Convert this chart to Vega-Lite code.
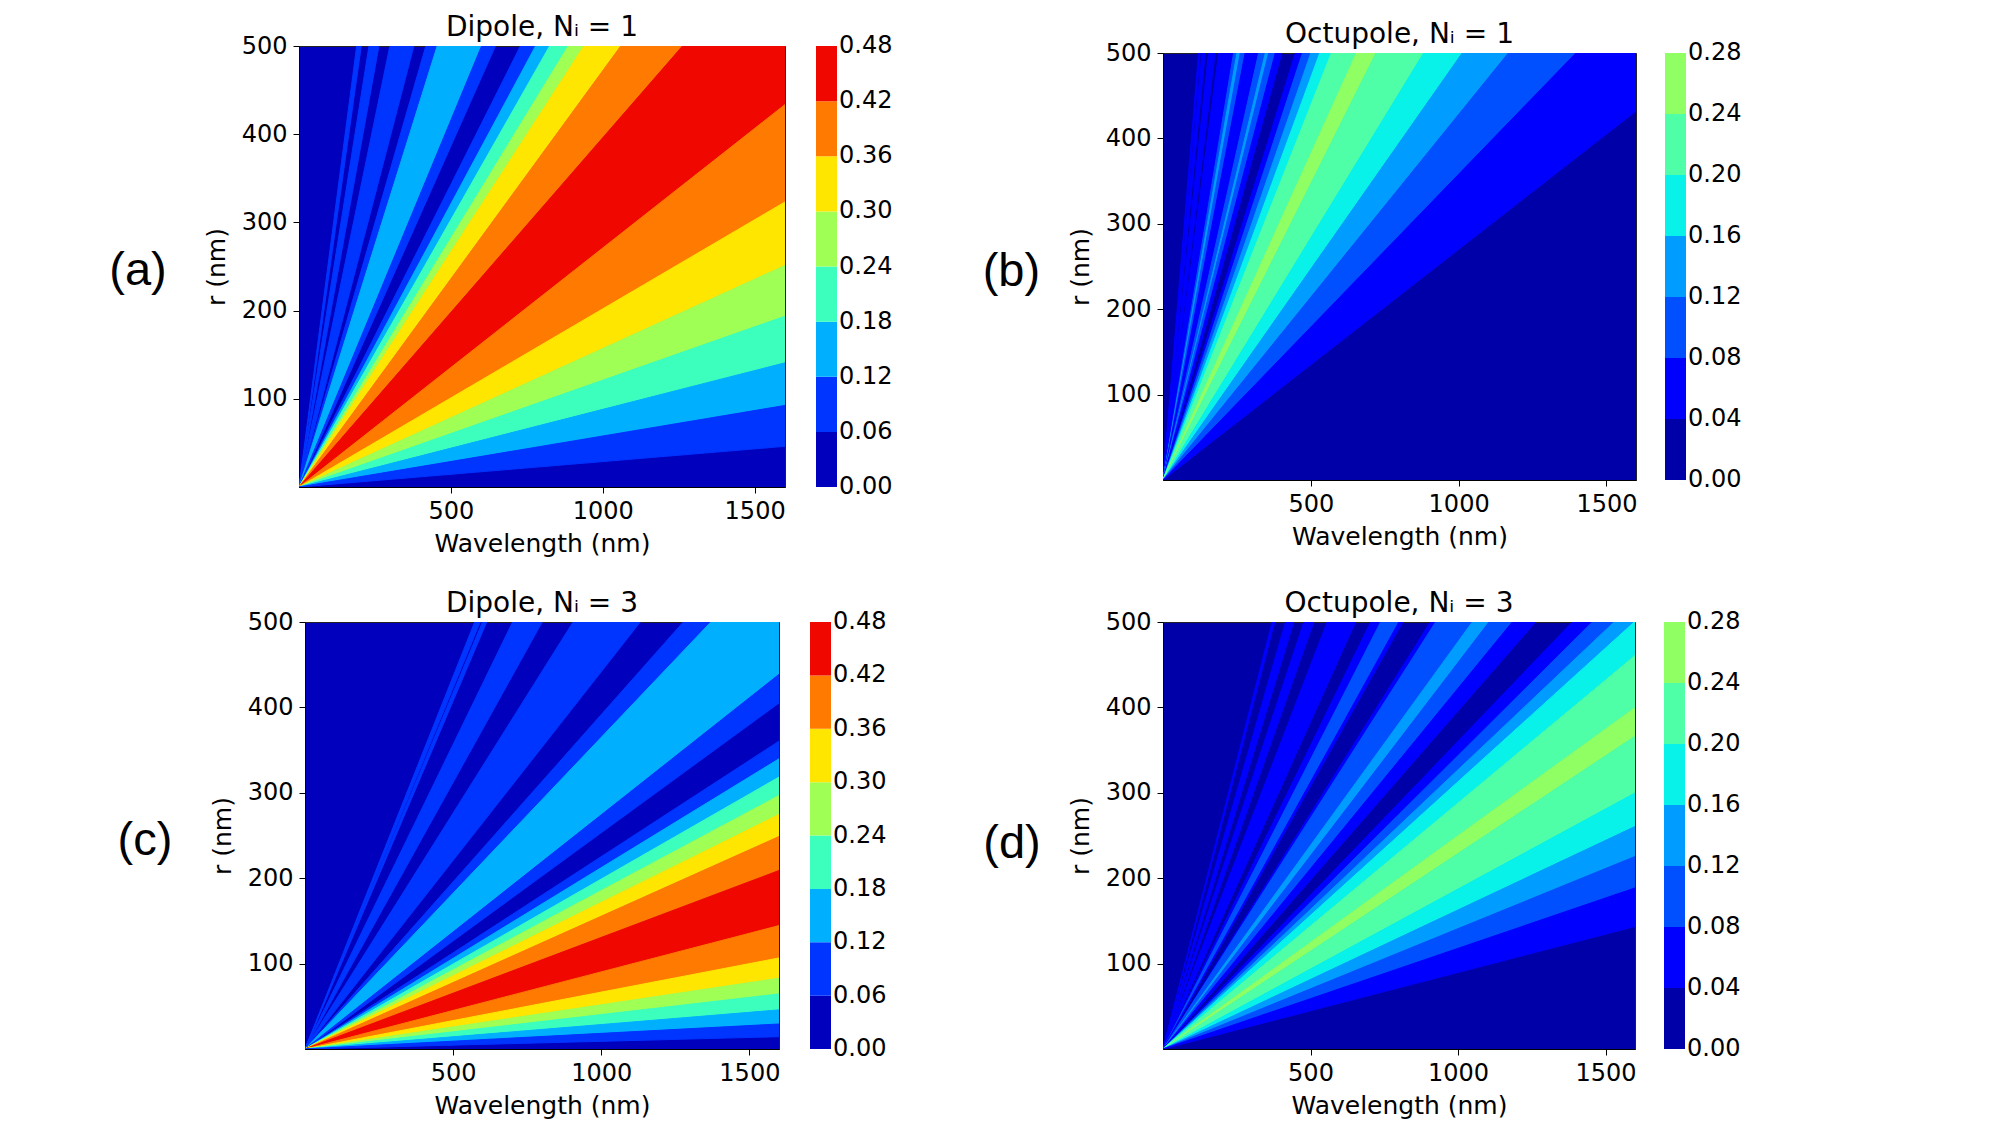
{
  "$schema": "https://vega.github.io/schema/vega-lite/v6.json",
  "background": "white",
  "padding": {"left": 108, "top": 13, "right": 10, "bottom": 10},
  "config": {
    "font": "DejaVu Sans",
    "axis": {"labelFontSize": 24, "titleFontSize": 25, "titleFontWeight": "normal", "labelColor": "black", "titleColor": "black", "tickColor": "black", "domainColor": "black", "tickSize": 6, "labelPadding": 6, "grid": false, "zindex": 1, "labelFlush": false, "labelFont": "DejaVu Sans", "titleFont": "DejaVu Sans", "format": "d"},
    "axisX": {"titlePadding": 8},
    "axisY": {"titlePadding": 12},
    "title": {"fontSize": 28, "fontWeight": "normal", "offset": -8, "frame": "group", "baseline": "alphabetic", "color": "black", "font": "DejaVu Sans", "anchor": "middle"},
    "legend": {"labelFontSize": 24, "labelColor": "black", "labelFont": "DejaVu Sans", "labelOffset": 11, "gradientThickness": 21, "gradientStrokeWidth": 0, "padding": 0, "labelOverlap": false, "direction": "vertical", "orient": "right", "labelBaseline": "middle"}
  },
  "datasets": {
    "a": [
      {"b":"a1","v":0.09,"x":0,"y":0,"y2":0},{"b":"a1","v":0.09,"x":189.8,"y":500,"y2":463.0},{"b":"a1","v":0.09,"x":205.0,"y":500,"y2":500},
      {"b":"a3","v":0.09,"x":0,"y":0,"y2":0},{"b":"a3","v":0.09,"x":230.3,"y":500,"y2":437.6},{"b":"a3","v":0.09,"x":263.2,"y":500,"y2":500},
      {"b":"a5","v":0.09,"x":0,"y":0,"y2":0},{"b":"a5","v":0.09,"x":299.0,"y":500,"y2":395.3},{"b":"a5","v":0.09,"x":378.2,"y":500,"y2":500},
      {"b":"a7","v":0.09,"x":0,"y":0,"y2":0},{"b":"a7","v":0.09,"x":417.4,"y":500,"y2":458.7},{"b":"a7","v":0.09,"x":455.0,"y":500,"y2":500},
      {"b":"a8","v":0.15,"x":0,"y":0,"y2":0},{"b":"a8","v":0.15,"x":455.0,"y":500,"y2":378.5},{"b":"a8","v":0.15,"x":601.0,"y":500,"y2":500},
      {"b":"a9","v":0.09,"x":0,"y":0,"y2":0},{"b":"a9","v":0.09,"x":601.0,"y":500,"y2":464.5},{"b":"a9","v":0.09,"x":646.8,"y":500,"y2":500},
      {"b":"a11","v":0.09,"x":0,"y":0,"y2":0},{"b":"a11","v":0.09,"x":728.9,"y":500,"y2":467.9},{"b":"a11","v":0.09,"x":778.8,"y":500,"y2":500},
      {"b":"a12","v":0.15,"x":0,"y":0,"y2":0},{"b":"a12","v":0.15,"x":778.8,"y":500,"y2":472.0},{"b":"a12","v":0.15,"x":825.1,"y":500,"y2":500},
      {"b":"a13","v":0.21,"x":0,"y":0,"y2":0},{"b":"a13","v":0.21,"x":825.1,"y":500,"y2":465.3},{"b":"a13","v":0.21,"x":886.5,"y":500,"y2":500},
      {"b":"a14","v":0.27,"x":0,"y":0,"y2":0},{"b":"a14","v":0.27,"x":886.5,"y":500,"y2":472.5},{"b":"a14","v":0.27,"x":938.1,"y":500,"y2":500},
      {"b":"a15","v":0.33,"x":0,"y":0,"y2":0},{"b":"a15","v":0.33,"x":938.1,"y":500,"y2":442.8},{"b":"a15","v":0.33,"x":1059.3,"y":500,"y2":500},
      {"b":"a16","v":0.39,"x":0,"y":0,"y2":0},{"b":"a16","v":0.39,"x":1059.3,"y":500,"y2":419.5},{"b":"a16","v":0.39,"x":1262.6,"y":500,"y2":500},
      {"b":"a17","v":0.45,"x":0,"y":0,"y2":0},{"b":"a17","v":0.45,"x":1262.6,"y":500,"y2":342.2},{"b":"a17","v":0.45,"x":1600,"y":500,"y2":433.6},
      {"b":"a18","v":0.39,"x":0,"y":0,"y2":0},{"b":"a18","v":0.39,"x":1600,"y":433.6,"y2":323.2},
      {"b":"a19","v":0.33,"x":0,"y":0,"y2":0},{"b":"a19","v":0.33,"x":1600,"y":323.2,"y2":251.2},
      {"b":"a20","v":0.27,"x":0,"y":0,"y2":0},{"b":"a20","v":0.27,"x":1600,"y":251.2,"y2":193.6},
      {"b":"a21","v":0.21,"x":0,"y":0,"y2":0},{"b":"a21","v":0.21,"x":1600,"y":193.6,"y2":140.8},
      {"b":"a22","v":0.15,"x":0,"y":0,"y2":0},{"b":"a22","v":0.15,"x":1600,"y":140.8,"y2":92.5},
      {"b":"a23","v":0.09,"x":0,"y":0,"y2":0},{"b":"a23","v":0.09,"x":1600,"y":92.5,"y2":46.1}
    ],
    "b": [
      {"b":"b1","v":0.06,"x":0,"y":0,"y2":0},{"b":"b1","v":0.06,"x":120.2,"y":500,"y2":477.2},{"b":"b1","v":0.06,"x":125.9,"y":500,"y2":500},
      {"b":"b3","v":0.06,"x":0,"y":0,"y2":0},{"b":"b3","v":0.06,"x":131.6,"y":500,"y2":460.5},{"b":"b3","v":0.06,"x":142.9,"y":500,"y2":500},
      {"b":"b5","v":0.06,"x":0,"y":0,"y2":0},{"b":"b5","v":0.06,"x":153.8,"y":500,"y2":435.4},{"b":"b5","v":0.06,"x":176.7,"y":500,"y2":500},
      {"b":"b7","v":0.06,"x":0,"y":0,"y2":0},{"b":"b7","v":0.06,"x":188.0,"y":500,"y2":393.6},{"b":"b7","v":0.06,"x":238.8,"y":500,"y2":500},
      {"b":"b8","v":0.10,"x":0,"y":0,"y2":0},{"b":"b8","v":0.10,"x":238.8,"y":500,"y2":477.6},{"b":"b8","v":0.10,"x":250.0,"y":500,"y2":500},
      {"b":"b9","v":0.14,"x":0,"y":0,"y2":0},{"b":"b9","v":0.14,"x":250.0,"y":500,"y2":478.3},{"b":"b9","v":0.14,"x":261.4,"y":500,"y2":500},
      {"b":"b10","v":0.10,"x":0,"y":0,"y2":0},{"b":"b10","v":0.10,"x":261.4,"y":500,"y2":470.5},{"b":"b10","v":0.10,"x":277.8,"y":500,"y2":500},
      {"b":"b11","v":0.06,"x":0,"y":0,"y2":0},{"b":"b11","v":0.06,"x":277.8,"y":500,"y2":429.4},{"b":"b11","v":0.06,"x":323.4,"y":500,"y2":500},
      {"b":"b12","v":0.10,"x":0,"y":0,"y2":0},{"b":"b12","v":0.10,"x":323.4,"y":500,"y2":467.3},{"b":"b12","v":0.10,"x":346.0,"y":500,"y2":500},
      {"b":"b13","v":0.14,"x":0,"y":0,"y2":0},{"b":"b13","v":0.14,"x":346.0,"y":500,"y2":484.1},{"b":"b13","v":0.14,"x":357.4,"y":500,"y2":500},
      {"b":"b14","v":0.10,"x":0,"y":0,"y2":0},{"b":"b14","v":0.10,"x":357.4,"y":500,"y2":470.3},{"b":"b14","v":0.10,"x":379.9,"y":500,"y2":500},
      {"b":"b15","v":0.06,"x":0,"y":0,"y2":0},{"b":"b15","v":0.06,"x":379.9,"y":500,"y2":472.3},{"b":"b15","v":0.06,"x":402.3,"y":500,"y2":500},
      {"b":"b17","v":0.06,"x":0,"y":0,"y2":0},{"b":"b17","v":0.06,"x":447.6,"y":500,"y2":474.5},{"b":"b17","v":0.06,"x":471.7,"y":500,"y2":500},
      {"b":"b18","v":0.10,"x":0,"y":0,"y2":0},{"b":"b18","v":0.10,"x":471.7,"y":500,"y2":471.7},{"b":"b18","v":0.10,"x":500.0,"y":500,"y2":500},
      {"b":"b19","v":0.14,"x":0,"y":0,"y2":0},{"b":"b19","v":0.14,"x":500.0,"y":500,"y2":471.5},{"b":"b19","v":0.14,"x":530.2,"y":500,"y2":500},
      {"b":"b20","v":0.18,"x":0,"y":0,"y2":0},{"b":"b20","v":0.18,"x":530.2,"y":500,"y2":465.5},{"b":"b20","v":0.18,"x":569.5,"y":500,"y2":500},
      {"b":"b21","v":0.22,"x":0,"y":0,"y2":0},{"b":"b21","v":0.22,"x":569.5,"y":500,"y2":435.1},{"b":"b21","v":0.22,"x":654.5,"y":500,"y2":500},
      {"b":"b22","v":0.26,"x":0,"y":0,"y2":0},{"b":"b22","v":0.26,"x":654.5,"y":500,"y2":454.2},{"b":"b22","v":0.26,"x":720.5,"y":500,"y2":500},
      {"b":"b23","v":0.22,"x":0,"y":0,"y2":0},{"b":"b23","v":0.22,"x":720.5,"y":500,"y2":408.5},{"b":"b23","v":0.22,"x":881.8,"y":500,"y2":500},
      {"b":"b24","v":0.18,"x":0,"y":0,"y2":0},{"b":"b24","v":0.18,"x":881.8,"y":500,"y2":435.6},{"b":"b24","v":0.18,"x":1012.1,"y":500,"y2":500},
      {"b":"b25","v":0.14,"x":0,"y":0,"y2":0},{"b":"b25","v":0.14,"x":1012.1,"y":500,"y2":433.2},{"b":"b25","v":0.14,"x":1168.2,"y":500,"y2":500},
      {"b":"b26","v":0.10,"x":0,"y":0,"y2":0},{"b":"b26","v":0.10,"x":1168.2,"y":500,"y2":418.2},{"b":"b26","v":0.10,"x":1396.6,"y":500,"y2":500},
      {"b":"b27","v":0.06,"x":0,"y":0,"y2":0},{"b":"b27","v":0.06,"x":1396.6,"y":500,"y2":377.1},{"b":"b27","v":0.06,"x":1600,"y":500,"y2":432.0}
    ],
    "c": [
      {"b":"c1","v":0.09,"x":0,"y":0,"y2":0},{"b":"c1","v":0.09,"x":572.7,"y":500,"y2":484.0},{"b":"c1","v":0.09,"x":591.7,"y":500,"y2":500},
      {"b":"c3","v":0.09,"x":0,"y":0,"y2":0},{"b":"c3","v":0.09,"x":598.8,"y":500,"y2":488.0},{"b":"c3","v":0.09,"x":613.5,"y":500,"y2":500},
      {"b":"c5","v":0.09,"x":0,"y":0,"y2":0},{"b":"c5","v":0.09,"x":700.8,"y":500,"y2":437.6},{"b":"c5","v":0.09,"x":800.6,"y":500,"y2":500},
      {"b":"c7","v":0.09,"x":0,"y":0,"y2":0},{"b":"c7","v":0.09,"x":904.8,"y":500,"y2":399.7},{"b":"c7","v":0.09,"x":1131.7,"y":500,"y2":500},
      {"b":"c9","v":0.09,"x":0,"y":0,"y2":0},{"b":"c9","v":0.09,"x":1276.8,"y":500,"y2":466.0},{"b":"c9","v":0.09,"x":1369.9,"y":500,"y2":500},
      {"b":"c10","v":0.15,"x":0,"y":0,"y2":0},{"b":"c10","v":0.15,"x":1369.9,"y":500,"y2":375.6},{"b":"c10","v":0.15,"x":1600,"y":500,"y2":438.7},
      {"b":"c11","v":0.09,"x":0,"y":0,"y2":0},{"b":"c11","v":0.09,"x":1600,"y":438.7,"y2":405.1},
      {"b":"c13","v":0.09,"x":0,"y":0,"y2":0},{"b":"c13","v":0.09,"x":1600,"y":360.5,"y2":339.8},
      {"b":"c14","v":0.15,"x":0,"y":0,"y2":0},{"b":"c14","v":0.15,"x":1600,"y":339.8,"y2":318.4},
      {"b":"c15","v":0.21,"x":0,"y":0,"y2":0},{"b":"c15","v":0.21,"x":1600,"y":318.4,"y2":296.8},
      {"b":"c16","v":0.27,"x":0,"y":0,"y2":0},{"b":"c16","v":0.27,"x":1600,"y":296.8,"y2":274.6},
      {"b":"c17","v":0.33,"x":0,"y":0,"y2":0},{"b":"c17","v":0.33,"x":1600,"y":274.6,"y2":248.8},
      {"b":"c18","v":0.39,"x":0,"y":0,"y2":0},{"b":"c18","v":0.39,"x":1600,"y":248.8,"y2":209.0},
      {"b":"c19","v":0.45,"x":0,"y":0,"y2":0},{"b":"c19","v":0.45,"x":1600,"y":209.0,"y2":144.5},
      {"b":"c20","v":0.39,"x":0,"y":0,"y2":0},{"b":"c20","v":0.39,"x":1600,"y":144.5,"y2":106.6},
      {"b":"c21","v":0.33,"x":0,"y":0,"y2":0},{"b":"c21","v":0.33,"x":1600,"y":106.6,"y2":82.9},
      {"b":"c22","v":0.27,"x":0,"y":0,"y2":0},{"b":"c22","v":0.27,"x":1600,"y":82.9,"y2":64.5},
      {"b":"c23","v":0.21,"x":0,"y":0,"y2":0},{"b":"c23","v":0.21,"x":1600,"y":64.5,"y2":45.8},
      {"b":"c24","v":0.15,"x":0,"y":0,"y2":0},{"b":"c24","v":0.15,"x":1600,"y":45.8,"y2":29.3},
      {"b":"c25","v":0.09,"x":0,"y":0,"y2":0},{"b":"c25","v":0.09,"x":1600,"y":29.3,"y2":14.4}
    ],
    "d": [
      {"b":"d1","v":0.06,"x":0,"y":0,"y2":0},{"b":"d1","v":0.06,"x":369.8,"y":500,"y2":488.2},{"b":"d1","v":0.06,"x":378.8,"y":500,"y2":500},
      {"b":"d3","v":0.06,"x":0,"y":0,"y2":0},{"b":"d3","v":0.06,"x":415.1,"y":500,"y2":468.1},{"b":"d3","v":0.06,"x":443.4,"y":500,"y2":500},
      {"b":"d5","v":0.06,"x":0,"y":0,"y2":0},{"b":"d5","v":0.06,"x":477.3,"y":500,"y2":466.8},{"b":"d5","v":0.06,"x":511.2,"y":500,"y2":500},
      {"b":"d7","v":0.06,"x":0,"y":0,"y2":0},{"b":"d7","v":0.06,"x":556.4,"y":500,"y2":426.2},{"b":"d7","v":0.06,"x":652.7,"y":500,"y2":500},
      {"b":"d9","v":0.06,"x":0,"y":0,"y2":0},{"b":"d9","v":0.06,"x":703.5,"y":500,"y2":477.0},{"b":"d9","v":0.06,"x":737.5,"y":500,"y2":500},
      {"b":"d10","v":0.10,"x":0,"y":0,"y2":0},{"b":"d10","v":0.10,"x":737.5,"y":500,"y2":461.2},{"b":"d10","v":0.10,"x":799.5,"y":500,"y2":500},
      {"b":"d11","v":0.06,"x":0,"y":0,"y2":0},{"b":"d11","v":0.06,"x":799.5,"y":500,"y2":491.7},{"b":"d11","v":0.06,"x":813.0,"y":500,"y2":500},
      {"b":"d13","v":0.06,"x":0,"y":0,"y2":0},{"b":"d13","v":0.06,"x":905.8,"y":500,"y2":490.0},{"b":"d13","v":0.06,"x":924.2,"y":500,"y2":500},
      {"b":"d14","v":0.10,"x":0,"y":0,"y2":0},{"b":"d14","v":0.10,"x":924.2,"y":500,"y2":440.9},{"b":"d14","v":0.10,"x":1048.2,"y":500,"y2":500},
      {"b":"d15","v":0.14,"x":0,"y":0,"y2":0},{"b":"d15","v":0.14,"x":1048.2,"y":500,"y2":474.3},{"b":"d15","v":0.14,"x":1105.0,"y":500,"y2":500},
      {"b":"d16","v":0.10,"x":0,"y":0,"y2":0},{"b":"d16","v":0.10,"x":1105.0,"y":500,"y2":466.6},{"b":"d16","v":0.10,"x":1184.0,"y":500,"y2":500},
      {"b":"d17","v":0.06,"x":0,"y":0,"y2":0},{"b":"d17","v":0.06,"x":1184.0,"y":500,"y2":468.6},{"b":"d17","v":0.06,"x":1263.3,"y":500,"y2":500},
      {"b":"d19","v":0.06,"x":0,"y":0,"y2":0},{"b":"d19","v":0.06,"x":1387.3,"y":500,"y2":476.7},{"b":"d19","v":0.06,"x":1455.2,"y":500,"y2":500},
      {"b":"d20","v":0.10,"x":0,"y":0,"y2":0},{"b":"d20","v":0.10,"x":1455.2,"y":500,"y2":475.8},{"b":"d20","v":0.10,"x":1529.1,"y":500,"y2":500},
      {"b":"d21","v":0.14,"x":0,"y":0,"y2":0},{"b":"d21","v":0.14,"x":1529.1,"y":500,"y2":478.6},{"b":"d21","v":0.14,"x":1597.4,"y":500,"y2":500},
      {"b":"d22","v":0.18,"x":0,"y":0,"y2":0},{"b":"d22","v":0.18,"x":1597.4,"y":500,"y2":460.1},{"b":"d22","v":0.18,"x":1600,"y":500,"y2":460.8},
      {"b":"d23","v":0.22,"x":0,"y":0,"y2":0},{"b":"d23","v":0.22,"x":1600,"y":460.8,"y2":399.5},
      {"b":"d24","v":0.26,"x":0,"y":0,"y2":0},{"b":"d24","v":0.26,"x":1600,"y":399.5,"y2":366.1},
      {"b":"d25","v":0.22,"x":0,"y":0,"y2":0},{"b":"d25","v":0.22,"x":1600,"y":366.1,"y2":299.7},
      {"b":"d26","v":0.18,"x":0,"y":0,"y2":0},{"b":"d26","v":0.18,"x":1600,"y":299.7,"y2":260.5},
      {"b":"d27","v":0.14,"x":0,"y":0,"y2":0},{"b":"d27","v":0.14,"x":1600,"y":260.5,"y2":225.4},
      {"b":"d28","v":0.10,"x":0,"y":0,"y2":0},{"b":"d28","v":0.10,"x":1600,"y":225.4,"y2":188.6},
      {"b":"d29","v":0.06,"x":0,"y":0,"y2":0},{"b":"d29","v":0.06,"x":1600,"y":188.6,"y2":143.4}
    ]
  },
  "columns": 2,
  "spacing": {"row": 135, "column": 378},
  "center": true,
  "bounds": "flush",
  "resolve": {"scale": {"color": "independent", "stroke": "independent", "x": "independent", "y": "independent"}, "legend": {"color": "independent", "stroke": "independent"}, "axis": {"x": "independent", "y": "independent"}},
  "concat": [
    {
      "width": 486, "height": 441,
      "view": {"fill": "#0000bd", "stroke": "#222", "strokeWidth": 1},
      "title": {"text": "Dipole, Nᵢ = 1"},
      "layer": [
        {
          "data": {"name": "a"},
          "mark": {"type": "area", "clip": true, "strokeWidth": 1, "strokeJoin": "round", "interpolate": "linear"},
          "encoding": {
            "x": {"field": "x", "type": "quantitative", "scale": {"domain": [0, 1600], "nice": false, "zero": false}, "axis": {"values": [500, 1000, 1500], "title": "Wavelength (nm)"}},
            "y": {"field": "y", "type": "quantitative", "scale": {"domain": [0, 500], "nice": false, "zero": false}, "axis": {"values": [100, 200, 300, 400, 500], "title": "r (nm)"}},
            "y2": {"field": "y2"},
            "detail": {"field": "b"},
            "color": {"field": "v", "type": "quantitative", "scale": {"type": "quantize", "domain": [0, 0.48], "nice": false, "zero": false, "range": ["#0000bd", "#0034ff", "#00b0ff", "#3cffbe", "#a0ff55", "#ffe600", "#ff7a00", "#f00800"]}, "legend": {"type": "gradient", "title": null, "values": [0, 0, 0.06, 0.12, 0.18, 0.24, 0.3, 0.36, 0.42, 0.48], "format": ".2f", "gradientLength": 441, "offset": 31, "encode": {"labels": {"update": {"baseline": {"value": "middle"}}}}}},
            "stroke": {"field": "v", "type": "quantitative", "scale": {"type": "quantize", "domain": [0, 0.48], "nice": false, "zero": false, "range": ["#0000bd", "#0034ff", "#00b0ff", "#3cffbe", "#a0ff55", "#ffe600", "#ff7a00", "#f00800"]}, "legend": null}
          }
        },
        {
          "data": {"values": [{"label": "(a)"}]},
          "mark": {"type": "text", "font": "Liberation Sans", "fontSize": 47, "color": "black", "clip": false, "baseline": "middle", "align": "center"},
          "encoding": {"x": {"datum": -530, "type": "quantitative"}, "y": {"datum": 245, "type": "quantitative"}, "text": {"field": "label"}}
        }
      ]
    },
    {
      "width": 473, "height": 427,
      "view": {"fill": "#0000a8", "stroke": "#222", "strokeWidth": 1},
      "title": {"text": "Octupole, Nᵢ = 1"},
      "layer": [
        {
          "data": {"name": "b"},
          "mark": {"type": "area", "clip": true, "strokeWidth": 1, "strokeJoin": "round", "interpolate": "linear"},
          "encoding": {
            "x": {"field": "x", "type": "quantitative", "scale": {"domain": [0, 1600], "nice": false, "zero": false}, "axis": {"values": [500, 1000, 1500], "title": "Wavelength (nm)"}},
            "y": {"field": "y", "type": "quantitative", "scale": {"domain": [0, 500], "nice": false, "zero": false}, "axis": {"values": [100, 200, 300, 400, 500], "title": "r (nm)"}},
            "y2": {"field": "y2"},
            "detail": {"field": "b"},
            "color": {"field": "v", "type": "quantitative", "scale": {"type": "quantize", "domain": [0, 0.28], "nice": false, "zero": false, "range": ["#0000a8", "#0000ff", "#0050ff", "#009cff", "#08f2ea", "#4effa8", "#90ff64"]}, "legend": {"type": "gradient", "title": null, "values": [0, 0.00001, 0.04001, 0.08001, 0.12001, 0.16001, 0.20001, 0.24001, 0.28], "format": ".2f", "gradientLength": 427, "offset": 29, "encode": {"labels": {"update": {"baseline": {"value": "middle"}}}}}},
            "stroke": {"field": "v", "type": "quantitative", "scale": {"type": "quantize", "domain": [0, 0.28], "nice": false, "zero": false, "range": ["#0000a8", "#0000ff", "#0050ff", "#009cff", "#08f2ea", "#4effa8", "#90ff64"]}, "legend": null}
          }
        },
        {
          "data": {"values": [{"label": "(b)"}]},
          "mark": {"type": "text", "font": "Liberation Sans", "fontSize": 47, "color": "black", "clip": false, "baseline": "middle", "align": "center"},
          "encoding": {"x": {"datum": -513, "type": "quantitative"}, "y": {"datum": 244, "type": "quantitative"}, "text": {"field": "label"}}
        }
      ]
    },
    {
      "width": 474, "height": 427,
      "view": {"fill": "#0000bd", "stroke": "#222", "strokeWidth": 1},
      "title": {"text": "Dipole, Nᵢ = 3"},
      "layer": [
        {
          "data": {"name": "c"},
          "mark": {"type": "area", "clip": true, "strokeWidth": 1, "strokeJoin": "round", "interpolate": "linear"},
          "encoding": {
            "x": {"field": "x", "type": "quantitative", "scale": {"domain": [0, 1600], "nice": false, "zero": false}, "axis": {"values": [500, 1000, 1500], "title": "Wavelength (nm)"}},
            "y": {"field": "y", "type": "quantitative", "scale": {"domain": [0, 500], "nice": false, "zero": false}, "axis": {"values": [100, 200, 300, 400, 500], "title": "r (nm)"}},
            "y2": {"field": "y2"},
            "detail": {"field": "b"},
            "color": {"field": "v", "type": "quantitative", "scale": {"type": "quantize", "domain": [0, 0.48], "nice": false, "zero": false, "range": ["#0000bd", "#0034ff", "#00b0ff", "#3cffbe", "#a0ff55", "#ffe600", "#ff7a00", "#f00800"]}, "legend": {"type": "gradient", "title": null, "values": [0, 0, 0.06, 0.12, 0.18, 0.24, 0.3, 0.36, 0.42, 0.48], "format": ".2f", "gradientLength": 427, "offset": 31, "encode": {"labels": {"update": {"baseline": {"value": "middle"}}}}}},
            "stroke": {"field": "v", "type": "quantitative", "scale": {"type": "quantize", "domain": [0, 0.48], "nice": false, "zero": false, "range": ["#0000bd", "#0034ff", "#00b0ff", "#3cffbe", "#a0ff55", "#ffe600", "#ff7a00", "#f00800"]}, "legend": null}
          }
        },
        {
          "data": {"values": [{"label": "(c)"}]},
          "mark": {"type": "text", "font": "Liberation Sans", "fontSize": 47, "color": "black", "clip": false, "baseline": "middle", "align": "center"},
          "encoding": {"x": {"datum": -540, "type": "quantitative"}, "y": {"datum": 243, "type": "quantitative"}, "text": {"field": "label"}}
        }
      ]
    },
    {
      "width": 472, "height": 427,
      "view": {"fill": "#0000a8", "stroke": "#222", "strokeWidth": 1},
      "title": {"text": "Octupole, Nᵢ = 3"},
      "layer": [
        {
          "data": {"name": "d"},
          "mark": {"type": "area", "clip": true, "strokeWidth": 1, "strokeJoin": "round", "interpolate": "linear"},
          "encoding": {
            "x": {"field": "x", "type": "quantitative", "scale": {"domain": [0, 1600], "nice": false, "zero": false}, "axis": {"values": [500, 1000, 1500], "title": "Wavelength (nm)"}},
            "y": {"field": "y", "type": "quantitative", "scale": {"domain": [0, 500], "nice": false, "zero": false}, "axis": {"values": [100, 200, 300, 400, 500], "title": "r (nm)"}},
            "y2": {"field": "y2"},
            "detail": {"field": "b"},
            "color": {"field": "v", "type": "quantitative", "scale": {"type": "quantize", "domain": [0, 0.28], "nice": false, "zero": false, "range": ["#0000a8", "#0000ff", "#0050ff", "#009cff", "#08f2ea", "#4effa8", "#90ff64"]}, "legend": {"type": "gradient", "title": null, "values": [0, 0.00001, 0.04001, 0.08001, 0.12001, 0.16001, 0.20001, 0.24001, 0.28], "format": ".2f", "gradientLength": 427, "offset": 29, "encode": {"labels": {"update": {"baseline": {"value": "middle"}}}}}},
            "stroke": {"field": "v", "type": "quantitative", "scale": {"type": "quantize", "domain": [0, 0.28], "nice": false, "zero": false, "range": ["#0000a8", "#0000ff", "#0050ff", "#009cff", "#08f2ea", "#4effa8", "#90ff64"]}, "legend": null}
          }
        },
        {
          "data": {"values": [{"label": "(d)"}]},
          "mark": {"type": "text", "font": "Liberation Sans", "fontSize": 47, "color": "black", "clip": false, "baseline": "middle", "align": "center"},
          "encoding": {"x": {"datum": -512, "type": "quantitative"}, "y": {"datum": 240, "type": "quantitative"}, "text": {"field": "label"}}
        }
      ]
    }
  ]
}
